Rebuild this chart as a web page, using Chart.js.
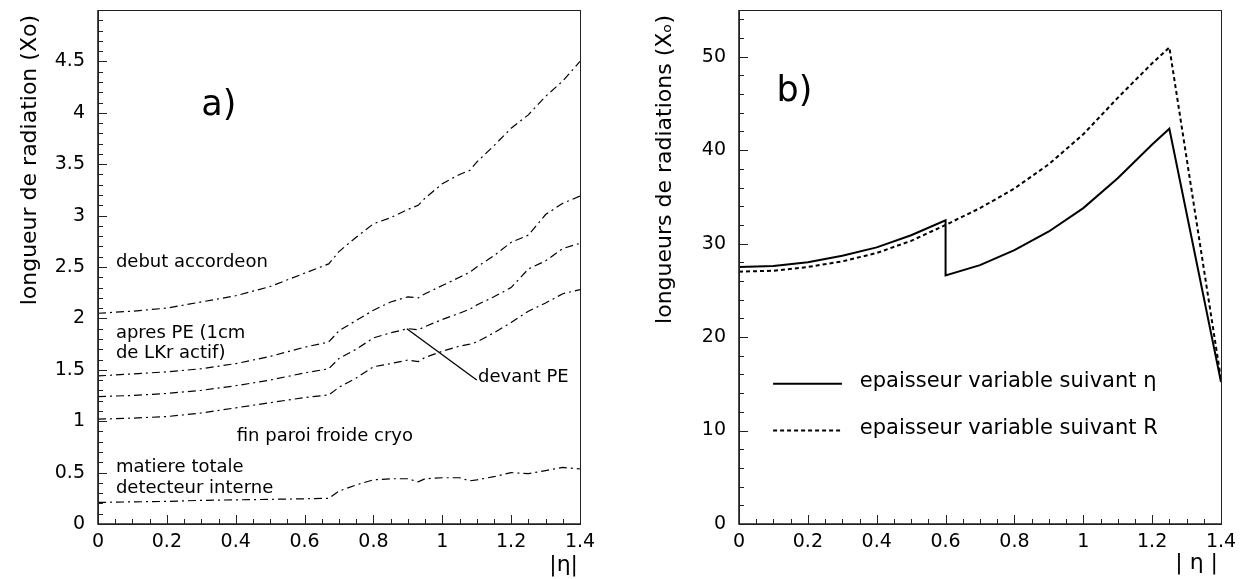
<!DOCTYPE html>
<html>
<head>
<meta charset="utf-8">
<script src="https://cdn.jsdelivr.net/npm/chart.js@4.4.1/dist/chart.umd.min.js"></script>
<style>
  html, body { margin: 0; padding: 0; background: #fff; }
  #wrap { position: relative; width: 1240px; height: 579px; }
  .panel { position: absolute; top: 0; width: 620px; height: 579px; }
</style>
</head>
<body>
<div id="wrap">
  <div class="panel" style="left:0"><canvas id="chartA" width="620" height="579"></canvas></div>
  <div class="panel" style="left:620px"><canvas id="chartB" width="620" height="579"></canvas></div>
</div>
<script>
// a) material in front of the calorimeter, in Xo, vs |eta|
const etaA = [0, 0.1, 0.2, 0.3, 0.4, 0.5, 0.6, 0.67, 0.7, 0.75, 0.8, 0.85, 0.9, 0.93, 0.95, 1.0, 1.05, 1.08, 1.1, 1.15, 1.2, 1.25, 1.3, 1.35, 1.4];
const debutAccordeon = [2.05, 2.07, 2.10, 2.16, 2.22, 2.31, 2.44, 2.53, 2.65, 2.79, 2.92, 2.98, 3.06, 3.10, 3.17, 3.31, 3.40, 3.44, 3.52, 3.68, 3.85, 3.98, 4.16, 4.31, 4.50];
const apresPE = [1.44, 1.46, 1.48, 1.51, 1.56, 1.63, 1.72, 1.77, 1.88, 1.98, 2.08, 2.16, 2.21, 2.20, 2.24, 2.32, 2.40, 2.45, 2.50, 2.61, 2.74, 2.81, 3.01, 3.12, 3.19];
const devantPE = [1.24, 1.25, 1.27, 1.30, 1.345, 1.40, 1.47, 1.51, 1.61, 1.70, 1.81, 1.86, 1.90, 1.89, 1.92, 1.99, 2.05, 2.09, 2.13, 2.21, 2.30, 2.48, 2.56, 2.68, 2.73];
const finParoi = [1.02, 1.03, 1.045, 1.08, 1.13, 1.18, 1.23, 1.255, 1.33, 1.42, 1.53, 1.56, 1.595, 1.58, 1.62, 1.68, 1.73, 1.75, 1.77, 1.86, 1.96, 2.07, 2.15, 2.24, 2.28];
const matiereTotale = [0.21, 0.215, 0.22, 0.23, 0.235, 0.24, 0.245, 0.25, 0.32, 0.38, 0.43, 0.44, 0.44, 0.41, 0.44, 0.45, 0.45, 0.42, 0.43, 0.46, 0.50, 0.49, 0.52, 0.55, 0.535];

// b) total radiation lengths for the two thickness options
const etaEta = [0, 0.1, 0.2, 0.3, 0.4, 0.5, 0.6, 0.6, 0.7, 0.8, 0.9, 1.0, 1.1, 1.2, 1.25, 1.4];
const suivantEta = [27.5, 27.6, 28.0, 28.7, 29.6, 30.9, 32.5, 26.6, 27.7, 29.3, 31.3, 33.8, 37.0, 40.6, 42.3, 15.2];
const etaR = [0, 0.1, 0.2, 0.3, 0.4, 0.5, 0.6, 0.7, 0.8, 0.9, 1.0, 1.1, 1.2, 1.25, 1.4];
const suivantR = [27.0, 27.1, 27.5, 28.1, 29.0, 30.3, 32.0, 33.8, 35.9, 38.5, 41.7, 45.6, 49.3, 51.0, 15.5];

const FONT = "'DejaVu Sans', sans-serif";
const pts = (xs, ys) => xs.map((x, i) => ({ x: x, y: ys[i] }));

function histLine(ys) {
    return {
        data: pts(etaA, ys),
        borderColor: '#000',
        borderWidth: 1.2,
        borderDash: [8, 4, 2, 4],
        pointRadius: 0,
        showLine: true,
        tension: 0
    };
}

// inward tick marks + frame, ROOT style
function drawFrame(chart, xs, ys) {
    const ctx = chart.ctx, a = chart.chartArea;
    const sx = chart.scales.x, sy = chart.scales.y;
    ctx.save();
    ctx.strokeStyle = '#222';
    ctx.lineWidth = 1;
    ctx.strokeRect(a.left + 0.5, a.top + 0.5, a.right - a.left, a.bottom - a.top);
    ctx.lineWidth = 1.6;
    ctx.beginPath();
    ctx.moveTo(a.left, a.top); ctx.lineTo(a.left, a.bottom); ctx.lineTo(a.right, a.bottom);
    ctx.stroke();
    ctx.lineWidth = 1;
    ctx.beginPath();
    for (let i = 0; xs.minor * i <= sx.max + 1e-9; i++) {
        const v = xs.minor * i;
        const len = Math.abs(v / xs.major - Math.round(v / xs.major)) < 1e-6 ? 9 : 5;
        const px = Math.round(sx.getPixelForValue(v)) + 0.5;
        ctx.moveTo(px, a.bottom); ctx.lineTo(px, a.bottom - len);
    }
    for (let i = 0; ys.minor * i <= sy.max + 1e-9; i++) {
        const v = ys.minor * i;
        const len = Math.abs(v / ys.major - Math.round(v / ys.major)) < 1e-6 ? 9 : 5;
        const py = Math.round(sy.getPixelForValue(v)) + 0.5;
        ctx.moveTo(a.left, py); ctx.lineTo(a.left + len, py);
    }
    ctx.stroke();
    ctx.restore();
}

function text(chart, s, x, y, size, align) {
    const ctx = chart.ctx;
    ctx.save();
    ctx.fillStyle = '#000';
    ctx.font = size + 'px ' + FONT;
    ctx.textAlign = align || 'left';
    ctx.textBaseline = 'middle';
    ctx.fillText(s, chart.scales.x.getPixelForValue(x), chart.scales.y.getPixelForValue(y));
    ctx.restore();
}

function yTitle(chart, s, cx, top) {
    const ctx = chart.ctx;
    ctx.save();
    ctx.fillStyle = '#000';
    ctx.font = '22px ' + FONT;
    ctx.translate(cx, top);
    ctx.rotate(-Math.PI / 2);
    ctx.textAlign = 'right';
    ctx.textBaseline = 'middle';
    ctx.fillText(s, 0, 0);
    ctx.restore();
}

function xTitle(chart, s, right, cy) {
    const ctx = chart.ctx;
    ctx.save();
    ctx.fillStyle = '#000';
    ctx.font = '22px ' + FONT;
    ctx.textAlign = 'right';
    ctx.textBaseline = 'middle';
    ctx.fillText(s, right, cy);
    ctx.restore();
}

function baseOptions(yMax, yStep, yHide, yWidth, padRight) {
    return {
        responsive: false,
        animation: false,
        layout: { padding: { left: 0, right: padRight, top: 10, bottom: 0 } },
        plugins: { legend: { display: false }, tooltip: { enabled: false } },
        scales: {
            x: {
                type: 'linear', min: 0, max: 1.4,
                grid: { display: false, drawTicks: false },
                border: { display: false },
                afterFit: s => { s.height = 55; s.paddingLeft = 0; s.paddingRight = 0; },
                ticks: {
                    stepSize: 0.2, padding: 7, color: '#000',
                    font: { family: FONT, size: 19 },
                    maxRotation: 0,
                    callback: v => String(+v.toFixed(1))
                }
            },
            y: {
                type: 'linear', min: 0, max: yMax,
                grid: { display: false, drawTicks: false },
                border: { display: false },
                afterFit: s => { s.width = yWidth; s.paddingTop = 0; s.paddingBottom = 0; },
                ticks: {
                    stepSize: yStep, padding: 13, color: '#000',
                    font: { family: FONT, size: 19 },
                    callback: v => (v > yHide ? '' : String(+v.toFixed(1)))
                }
            }
        }
    };
}

// ---------- a) ----------
new Chart(document.getElementById('chartA'), {
    type: 'scatter',
    data: {
        datasets: [
            histLine(debutAccordeon),
            histLine(apresPE),
            histLine(devantPE),
            histLine(finParoi),
            histLine(matiereTotale)
        ]
    },
    options: baseOptions(5, 0.5, 4.6, 98, 40),
    plugins: [{
        id: 'decorA',
        afterDraw(chart) {
            drawFrame(chart, { minor: 0.05, major: 0.2 }, { minor: 0.1, major: 0.5 });
            const sx = chart.scales.x, sy = chart.scales.y, ctx = chart.ctx;
            text(chart, 'a)', 0.3, 4.07, 35);
            text(chart, 'debut accordeon', 0.052, 2.55, 18);
            text(chart, 'apres PE (1cm', 0.052, 1.855, 18);
            text(chart, 'de LKr actif)', 0.052, 1.66, 18);
            text(chart, 'fin paroi froide cryo', 0.403, 0.85, 18);
            text(chart, 'matiere totale', 0.052, 0.55, 18);
            text(chart, 'detecteur interne', 0.052, 0.35, 18);
            text(chart, 'devant PE', 1.104, 1.43, 18);
            ctx.save();
            ctx.strokeStyle = '#000';
            ctx.lineWidth = 1.3;
            ctx.beginPath();
            ctx.moveTo(sx.getPixelForValue(0.897), sy.getPixelForValue(1.90));
            ctx.lineTo(sx.getPixelForValue(1.10), sy.getPixelForValue(1.40));
            ctx.stroke();
            ctx.restore();
            yTitle(chart, 'longueur de radiation (Xo)', 30, 15);
            xTitle(chart, '|\u03b7|', 578, 565);
        }
    }]
});

// ---------- b) ----------
new Chart(document.getElementById('chartB'), {
    type: 'scatter',
    data: {
        datasets: [
            {
                label: 'epaisseur variable suivant \u03b7',
                data: pts(etaEta, suivantEta),
                borderColor: '#000', borderWidth: 2,
                pointRadius: 0, showLine: true, tension: 0
            },
            {
                label: 'epaisseur variable suivant R',
                data: pts(etaR, suivantR),
                borderColor: '#000', borderWidth: 2, borderDash: [4, 3],
                pointRadius: 0, showLine: true, tension: 0
            }
        ]
    },
    options: baseOptions(55, 10, 50, 119, 19),
    plugins: [{
        id: 'decorB',
        afterDraw(chart) {
            drawFrame(chart, { minor: 0.05, major: 0.2 }, { minor: 2, major: 10 });
            const sx = chart.scales.x, sy = chart.scales.y, ctx = chart.ctx;
            text(chart, 'b)', 0.109, 46.2, 35);
            // legend samples
            ctx.save();
            ctx.strokeStyle = '#000';
            ctx.lineWidth = 2;
            ctx.beginPath();
            ctx.moveTo(sx.getPixelForValue(0.099), sy.getPixelForValue(15));
            ctx.lineTo(sx.getPixelForValue(0.299), sy.getPixelForValue(15));
            ctx.stroke();
            ctx.setLineDash([4, 3]);
            ctx.beginPath();
            ctx.moveTo(sx.getPixelForValue(0.099), sy.getPixelForValue(10));
            ctx.lineTo(sx.getPixelForValue(0.299), sy.getPixelForValue(10));
            ctx.stroke();
            ctx.restore();
            text(chart, chart.data.datasets[0].label, 0.351, 15.2, 21);
            text(chart, chart.data.datasets[1].label, 0.351, 10.2, 21);
            yTitle(chart, 'longueurs de radiations (X\u2092)', 45, 15);
            xTitle(chart, '| \u03b7 |', 598, 563);
        }
    }]
});
</script>
</body>
</html>
